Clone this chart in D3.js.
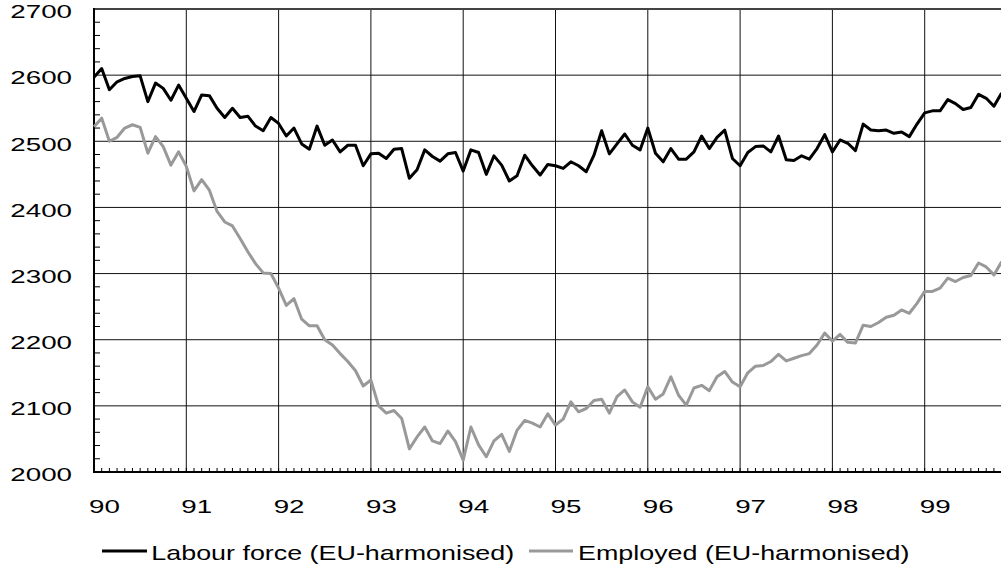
<!DOCTYPE html>
<html>
<head>
<meta charset="utf-8">
<script src="https://cdn.jsdelivr.net/npm/d3@7"></script>
<style>
  html, body { margin: 0; padding: 0; background: #fff; }
  svg { display: block; }
  text { font-family: "Liberation Sans", Arial, sans-serif; fill: #000; }
</style>
</head>
<body>
<svg id="chart" width="1001" height="570"></svg>
<script>
// ---- Data (monthly, Jan 1990 .. Nov 1999) ----
const yearLabels = ["90","91","92","93","94","95","96","97","98","99"];
const seriesNames = ["Labour force (EU-harmonised)", "Employed (EU-harmonised)"];
const labourForce = [
  2597,2610,2578,2590,2595,2598,2599,2560,2588,2580,2562,2585,
  2565,2545,2570,2569,2550,2536,2550,2536,2538,2523,2516,2536,
  2527,2508,2520,2496,2488,2523,2494,2502,2484,2494,2494,2463,
  2481,2482,2474,2488,2489,2444,2457,2487,2477,2470,2481,2483,
  2455,2487,2483,2450,2478,2464,2440,2448,2479,2463,2449,2465,
  2463,2459,2469,2463,2454,2479,2516,2481,2496,2511,2494,2487,
  2520,2482,2469,2489,2473,2473,2484,2508,2489,2506,2517,2474,
  2463,2483,2492,2493,2484,2508,2472,2471,2478,2473,2489,2510,
  2484,2502,2497,2486,2526,2517,2516,2517,2512,2514,2507,2526,
  2543,2546,2546,2563,2557,2548,2551,2571,2565,2553,2573
];
const employed = [
  2522,2535,2500,2506,2520,2525,2521,2482,2507,2492,2464,2484,
  2462,2425,2442,2426,2394,2378,2372,2353,2333,2315,2301,2300,
  2278,2252,2262,2231,2221,2221,2200,2192,2179,2167,2153,2130,
  2139,2100,2089,2093,2081,2035,2053,2068,2047,2043,2062,2046,
  2018,2068,2041,2023,2047,2057,2031,2063,2078,2074,2068,2088,
  2071,2080,2106,2091,2096,2108,2110,2089,2114,2124,2106,2098,
  2129,2110,2118,2144,2116,2101,2127,2131,2123,2144,2152,2136,
  2129,2150,2160,2161,2167,2178,2168,2172,2176,2179,2192,2210,
  2198,2208,2196,2195,2222,2220,2226,2234,2237,2245,2240,2255,
  2273,2273,2278,2293,2288,2294,2297,2316,2310,2298,2318
];
const yTicks = [2000,2100,2200,2300,2400,2500,2600,2700];

// ---- Layout ----
const svg = d3.select("#chart");
const plotLeft = 94, plotTop = 9, plotBottom = 472;
const monthPx = 92.3 / 12;
const x = d3.scaleLinear().domain([0, 120]).range([plotLeft, plotLeft + 120 * monthPx]);
const y = d3.scaleLinear().domain([2000, 2700]).range([plotBottom, plotTop]);
const rightEdge = 1001;

const g = svg.append("g");

// Horizontal gridlines
g.selectAll("line.hg").data(yTicks.filter(v => v > 2000 && v < 2700)).enter()
  .append("line").attr("class","hg")
  .attr("x1", plotLeft).attr("x2", rightEdge)
  .attr("y1", d => y(d)).attr("y2", d => y(d))
  .attr("stroke", "#111").attr("stroke-width", 1);

// Vertical year gridlines
const yearIdx = yearLabels.map((_, i) => i * 12);
g.selectAll("line.vg").data(yearIdx.filter(d => d > 0)).enter()
  .append("line").attr("class","vg")
  .attr("x1", d => x(d)).attr("x2", d => x(d))
  .attr("y1", plotTop).attr("y2", plotBottom)
  .attr("stroke", "#111").attr("stroke-width", 1);

// Top border
g.append("line").attr("x1", plotLeft).attr("x2", rightEdge)
  .attr("y1", y(2700)).attr("y2", y(2700))
  .attr("stroke", "#444").attr("stroke-width", 2);

// Y minor ticks (every 20), inside
const yMinor = d3.range(2020, 2700, 20).filter(v => v % 100 !== 0);
g.selectAll("line.ym").data(yMinor).enter()
  .append("line").attr("class","ym")
  .attr("x1", plotLeft).attr("x2", plotLeft + 6)
  .attr("y1", d => y(d)).attr("y2", d => y(d))
  .attr("stroke", "#000").attr("stroke-width", 1);

// X minor ticks (monthly)
const xMinor = d3.range(1, 120).filter(i => x(i) <= rightEdge);
g.selectAll("line.xm").data(xMinor).enter()
  .append("line").attr("class","xm")
  .attr("x1", d => x(d)).attr("x2", d => x(d))
  .attr("y1", plotBottom).attr("y2", plotBottom - 4)
  .attr("stroke", "#000").attr("stroke-width", 1);

// Axes lines
g.append("line").attr("x1", plotLeft).attr("x2", plotLeft).attr("y1", plotTop - 1).attr("y2", plotBottom + 1)
  .attr("stroke", "#000").attr("stroke-width", 2);
g.append("line").attr("x1", plotLeft - 1).attr("x2", rightEdge).attr("y1", plotBottom).attr("y2", plotBottom)
  .attr("stroke", "#000").attr("stroke-width", 2);

// Y labels
g.selectAll("text.yl").data(yTicks).enter()
  .append("text").attr("class","yl")
  .attr("text-anchor", "end")
  .attr("font-size", 18.5)
  .attr("transform", d => `translate(72,${y(d) + 9.3}) scale(1.5,1)`)
  .text(d => d);

// X labels
g.selectAll("text.xl").data(yearLabels).enter()
  .append("text").attr("class","xl")
  .attr("text-anchor", "middle")
  .attr("font-size", 18.5)
  .attr("transform", (d, i) => `translate(${x(i * 12) + 10.5},513) scale(1.5,1)`)
  .text(d => d);

// Series lines
const line = d3.line().x((d, i) => x(i)).y(d => y(d));
g.append("path").datum(employed)
  .attr("d", line).attr("fill", "none")
  .attr("stroke", "#999999").attr("stroke-width", 3).attr("stroke-linejoin", "round");
g.append("path").datum(labourForce)
  .attr("d", line).attr("fill", "none")
  .attr("stroke", "#000").attr("stroke-width", 3).attr("stroke-linejoin", "round");

// Legend
const legend = [
  {name: seriesNames[0], color: "#000", x1: 102, x2: 147, tx: 151.3},
  {name: seriesNames[1], color: "#999999", x1: 529, x2: 573, tx: 578}
];
const lg = svg.append("g");
legend.forEach(l => {
  lg.append("line").attr("x1", l.x1).attr("x2", l.x2).attr("y1", 551).attr("y2", 551)
    .attr("stroke", l.color).attr("stroke-width", 3);
  lg.append("text").attr("font-size", 21)
    .attr("transform", `translate(${l.tx},560) scale(1.28,1)`)
    .text(l.name);
});
</script>
</body>
</html>
